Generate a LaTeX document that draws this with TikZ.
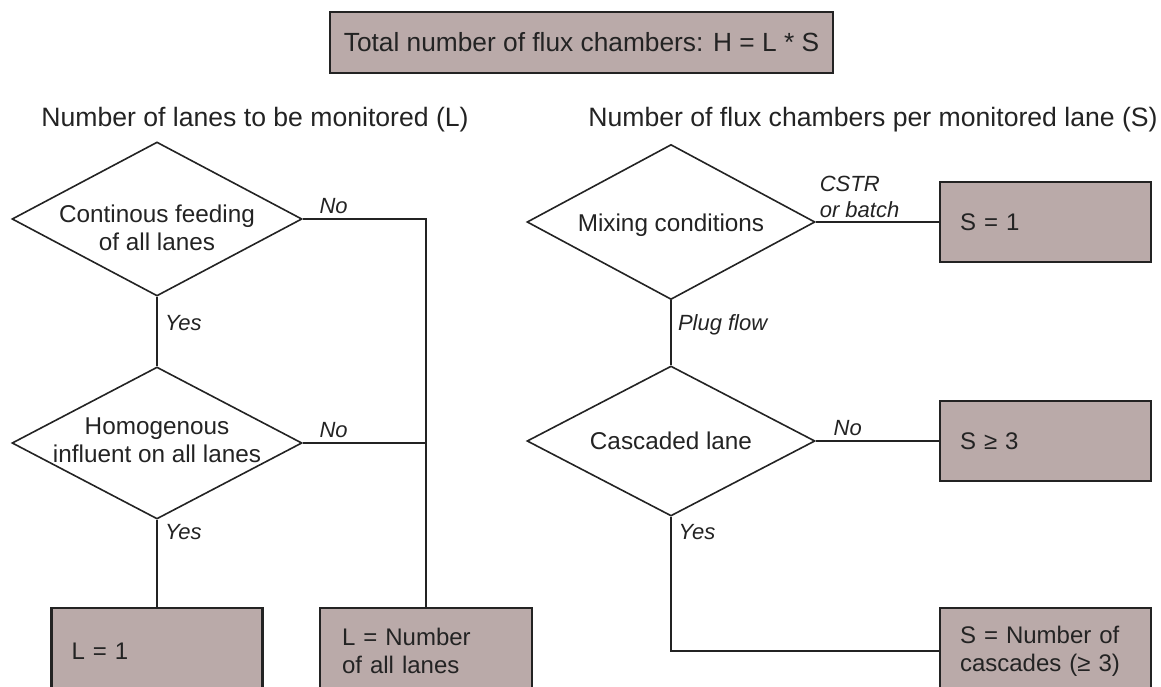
\documentclass[tikz,border=0pt]{standalone}
\usepackage{fontspec}
\setmainfont{Liberation Sans}
\usetikzlibrary{shapes.geometric}
\definecolor{boxfill}{RGB}{186,170,169}
\definecolor{ink}{RGB}{35,35,35}
\begin{document}
\begin{tikzpicture}[x=1pt,y=-1pt,
 dec/.style={diamond, draw=ink, line width=1.6pt, inner sep=0pt, minimum width=290pt, minimum height=154pt, font=\fontsize{24.3}{28}\selectfont, text=ink},
 boxbase/.style={rectangle, draw=ink, line width=2.4pt, fill=boxfill, text=ink},
 res/.style={boxbase, minimum width=211pt, minimum height=80pt, text width=171pt, inner xsep=20pt, inner ysep=0pt, align=left, font=\fontsize{24}{28}\selectfont},
 lab/.style={font=\fontsize{22}{26}\selectfont\itshape, text=ink, inner sep=4pt},
 conn/.style={draw=ink, line width=2pt},
 thinconn/.style={draw=ink, line width=1.3pt},
 head/.style={font=\fontsize{26.6}{30}\selectfont, text=ink}]
\useasboundingbox (0,0) rectangle (1161,687);
\clip (0,0) rectangle (1161,687);

\node[boxbase, minimum width=503pt, minimum height=61pt, inner sep=0pt, font=\fontsize{26.3}{30}\selectfont] (tot) at (581.5,42.5) {Total number of flux chambers: H = L * S};
\node[head] (hl) at (255,120) {Number of lanes to be monitored (L)};
\node[head] (hs) at (873,120) {Number of flux chambers per monitored lane (S)};

\node[dec] (d1) at (157,219) {\raisebox{-12pt}[\height][\depth]{\makebox[0pt]{\begin{tabular}{@{}c@{}}Continous feeding\\of all lanes\end{tabular}}}};
\node[dec, minimum height=152pt] (d2) at (157,443) {\makebox[0pt]{\begin{tabular}{@{}c@{}}Homogenous\\influent on all lanes\end{tabular}}};
\node[dec, minimum width=288pt, minimum height=155pt] (d3) at (671,222) {\raisebox{-3pt}[\height][\depth]{\makebox[0pt]{Mixing conditions}}};
\node[dec, minimum width=288pt, minimum height=150pt] (d4) at (671,441) {\makebox[0pt]{Cascaded lane}};

\node[res] (s1) at (1045.5,222) {S = 1};
\node[res] (s3) at (1045.5,441) {S ≥ 3};
\node[res, minimum height=86pt] (sc) at (1045.5,651) {S = Number of\\cascades (≥ 3)};
\node[res, minimum height=86pt] (l1) at (157,651) {L = 1};
\node[res, minimum height=86pt, minimum width=212pt, text width=168pt, inner xsep=22pt] (la) at (426,651) {L = Number\\of all lanes};

\draw[conn] (d1.east) -- node[lab, above, pos=0.25]{No} (d1.east -| la.north) -- (la.north);
\draw[conn] (d2.east) -- node[lab, above, pos=0.25]{No} (d2.east -| la.north);
\draw[conn] (d1.south) -- node[lab, right, pos=0.38, xshift=3pt]{Yes} (d2.north);
\draw[conn] (d2.south) -- node[lab, right, pos=0.146, xshift=3pt]{Yes} (l1.north);
\draw[conn] (d3.east) -- node[lab, pos=0, anchor=south west, align=left, inner sep=3pt]{CSTR\\or batch} (s1.west);
\draw[conn] (d3.south) -- node[lab, right, pos=0.37, xshift=2pt]{Plug flow} (d4.north);
\draw[conn] (d4.east) -- node[lab, above, pos=0.26]{No} (s3.west);
\draw[thinconn] (d4.south) |- node[lab, right, pos=0.056, xshift=3pt]{Yes} (sc.west);
\end{tikzpicture}
\end{document}
